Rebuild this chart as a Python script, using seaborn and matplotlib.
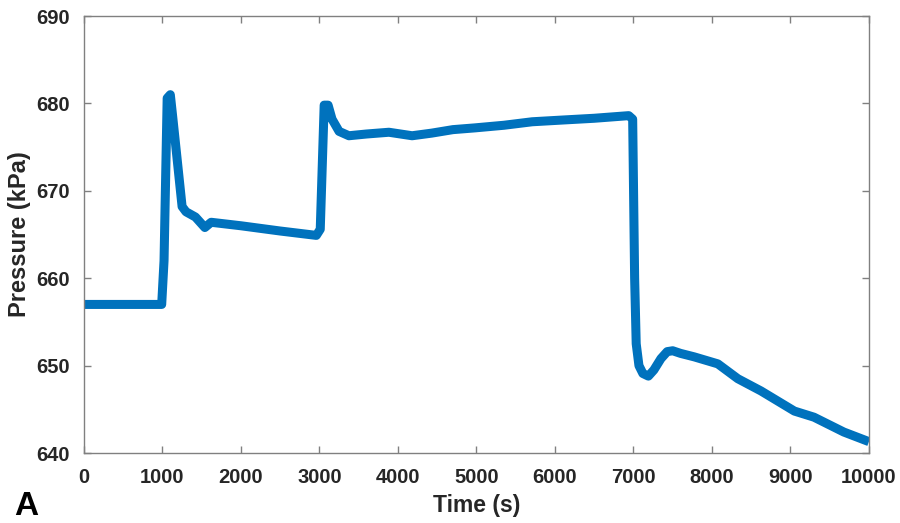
import matplotlib
matplotlib.use("Agg")
import matplotlib.pyplot as plt
import seaborn as sns
import pandas as pd

time_s = [0, 990, 1020, 1060, 1100, 1130, 1250, 1300, 1420, 1540, 1620, 2000, 2500, 2960, 3010,
          3060, 3110, 3160, 3250, 3375, 3600, 3885, 4180, 4430, 4700, 4980, 5350, 5710, 6100,
          6500, 6940, 6990, 7015, 7035, 7070, 7120, 7190, 7260, 7350, 7430, 7500, 7600, 7775,
          8075, 8330, 8625, 9050, 9300, 9680, 10000]
pressure_kpa = [657.0, 657.0, 662.0, 680.6, 681.0, 678.5, 668.2, 667.6, 667.0, 665.8, 666.4, 666.0,
                665.4, 664.9, 665.6, 679.8, 679.8, 678.2, 676.8, 676.3, 676.5, 676.7, 676.3, 676.6,
                677.0, 677.2, 677.5, 677.9, 678.1, 678.3, 678.6, 678.2, 660.0, 652.5, 650.0, 649.1,
                648.8, 649.5, 650.8, 651.6, 651.7, 651.4, 651.0, 650.2, 648.5, 647.1, 644.8, 644.1,
                642.4, 641.3]

xticks = [0, 1000, 2000, 3000, 4000, 5000, 6000, 7000, 8000, 9000, 10000]
yticks = [640, 650, 660, 670, 680, 690]

df = pd.DataFrame({"Time (s)": time_s, "Pressure (kPa)": pressure_kpa})

sns.set_style("white")
plt.rcParams['font.family'] = ['Liberation Sans', 'DejaVu Sans']

fig = plt.figure(figsize=(9, 5.23), dpi=100)
ax = fig.add_axes([0.0933, 0.1338, 0.8722, 0.8356])

sns.lineplot(data=df, x="Time (s)", y="Pressure (kPa)", ax=ax, color="#0072BD",
             linewidth=6.5, solid_joinstyle="round", solid_capstyle="butt", sort=False)

ax.set_xlim(0, 10000)
ax.set_ylim(640, 690)
ax.set_xticks(xticks)
ax.set_yticks(yticks)
ax.set_xticklabels([str(v) for v in xticks], fontsize=14.5, fontweight="bold", color="#262626")
ax.set_yticklabels([str(v) for v in yticks], fontsize=14.5, fontweight="bold", color="#262626")
ax.tick_params(direction="in", length=5, width=1, color="#808080", top=True, right=True,
               bottom=True, left=True)
ax.tick_params(axis="x", pad=11)
ax.tick_params(axis="y", pad=10)
for s in ax.spines.values():
    s.set_visible(True)
    s.set_color("#808080")
    s.set_linewidth(1.0)

ax.set_xlabel("Time (s)", fontsize=16.5, fontweight="bold", color="#262626", labelpad=5)
ax.set_ylabel("Pressure (kPa)", fontsize=17, fontweight="bold", color="#262626", labelpad=4)

fig.text(0.016, 0.016, "A", fontsize=24, fontweight="bold", color="black", ha="left", va="baseline")

fig.savefig("out.png", dpi=100, facecolor="white")
